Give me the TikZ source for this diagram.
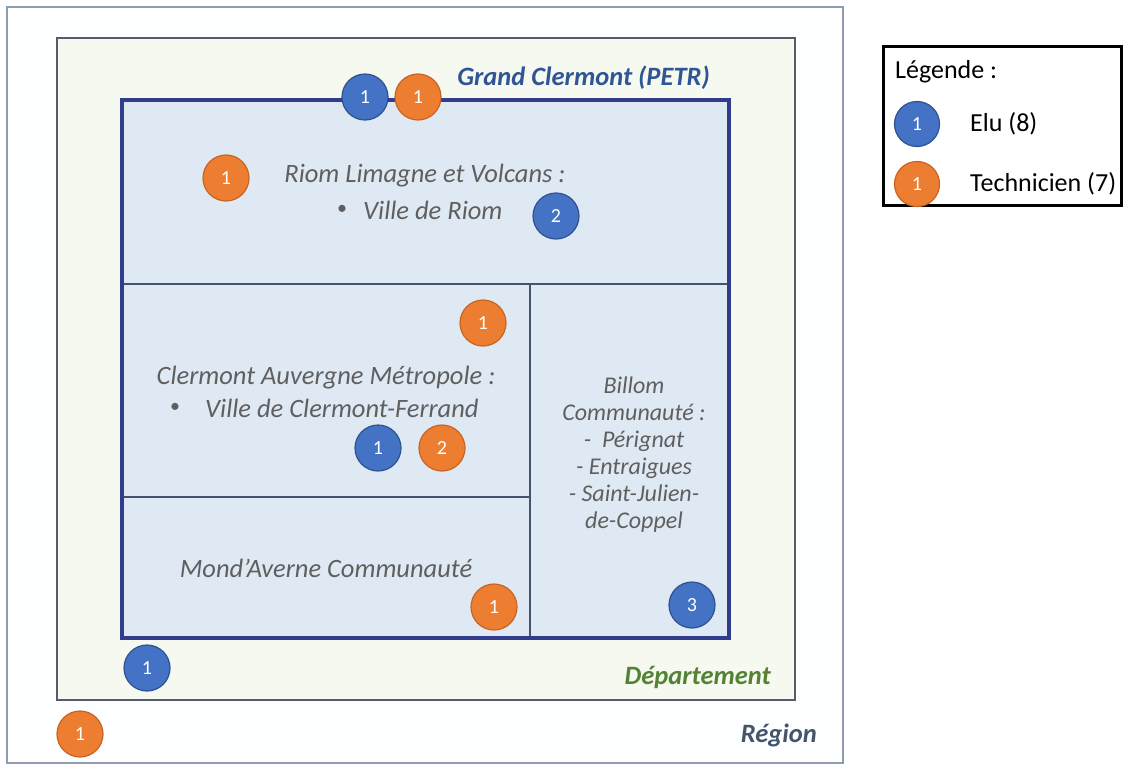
\documentclass[tikz,border=0pt]{standalone}
\usepackage{fontspec}
\setmainfont{Carlito}
\definecolor{regborder}{RGB}{140,158,176}
\definecolor{regfill}{RGB}{253,254,255}
\definecolor{depborder}{RGB}{85,92,105}
\definecolor{depfill}{RGB}{245,249,239}
\definecolor{petrborder}{RGB}{50,60,140}
\definecolor{petrfill}{RGB}{223,233,243}
\definecolor{divider}{RGB}{68,84,106}
\definecolor{textgray}{RGB}{95,95,95}
\definecolor{petrtext}{RGB}{47,85,151}
\definecolor{deptext}{RGB}{84,130,53}
\definecolor{regtext}{RGB}{68,84,106}
\definecolor{cblue}{RGB}{68,114,196}
\definecolor{cblueb}{RGB}{47,82,143}
\definecolor{corange}{RGB}{237,125,49}
\definecolor{corangeb}{RGB}{200,100,35}
\begin{document}
\begin{tikzpicture}[x=1pt,y=-1pt,
  txt/.style={font=\fontsize{26.5}{31}\selectfont\itshape, text=textgray, align=center, inner sep=0pt},
  bul/.style={font=\fontsize{20}{20}\selectfont, text=textgray, inner sep=0pt},
  lbl/.style={font=\fontsize{26.5}{30}\selectfont\bfseries\itshape, inner sep=0pt},
  legtxt/.style={font=\fontsize{26}{30}\selectfont, text=black, inner sep=0pt, anchor=west},
  badge/.style={circle, minimum size=46pt, inner sep=0pt, line width=1.2pt, text=white, font=\fontsize{20}{20}\selectfont},
  bluec/.style={badge, fill=cblue, draw=cblueb},
  orangec/.style={badge, fill=corange, draw=corangeb},
  smallbadge/.style={minimum size=45pt}]
\useasboundingbox (0,0) rectangle (1123,765);
\fill[white] (0,0) rectangle (1123,765);
% Region box
\draw[regborder, fill=regfill, line width=1.2pt] (7,7) rectangle (843,763);
% Departement box
\draw[depborder, fill=depfill, line width=1.2pt] (57,38) rectangle (795,700);
% PETR box
\fill[petrfill] (122,100) rectangle (729,638);
\draw[divider, line width=1.3pt] (122,284) -- (729,284);
\draw[divider, line width=1.3pt] (530,284) -- (530,638);
\draw[divider, line width=1.3pt] (122,497) -- (530,497);
\draw[petrborder, line width=4pt] (122,100) rectangle (729,638);
% labels
\node[lbl, text=petrtext, anchor=east] (petr) at (710,78) {Grand Clermont (PETR)};
\node[lbl, text=deptext, anchor=east] (dep) at (771,677) {Département};
\node[lbl, text=regtext, anchor=east] (reg) at (817,735) {Région};
% Riom
\node[txt] (riom) at (425,176) {Riom Limagne et Volcans :};
\node[bul] (riomb) at (342,210) {•};
\node[txt, anchor=west] (riomv) at (363,210) {Ville de Riom};
% Clermont
\node[txt] (cam) at (326,378) {Clermont Auvergne Métropole :};
\node[bul] (camb) at (175,408) {•};
\node[txt, anchor=west] (camv) at (205,408) {Ville de Clermont-Ferrand};
% Mond'Averne
\node[txt] (mond) at (326,568) {Mond’Averne Communauté};
% Billom
\node[txt, font=\fontsize{24}{27}\selectfont\itshape] (billom) at (634,455) {Billom\\Communauté :\\-\ \ Pérignat\\- Entraigues\\- Saint-Julien-\\de-Coppel};
% badges
\node[bluec] (b1) at (365,97) {1};
\node[orangec] (o1) at (418,97) {1};
\node[orangec] (o2) at (226,178) {1};
\node[bluec] (b2) at (556,216) {2};
\node[orangec] (o3) at (483,323) {1};
\node[bluec] (b3) at (378,448) {1};
\node[orangec] (o4) at (442,448) {2};
\node[orangec] (o5) at (494,607) {1};
\node[bluec] (b4) at (692,605) {3};
\node[bluec] (b5) at (147,668) {1};
\node[orangec] (o6) at (80,734) {1};
% legend
\draw[black, line width=3pt] (883,47) rectangle (1121,205);
\node[legtxt] (leg) at (895,72) {Légende :};
\node[bluec, smallbadge] (lb) at (917,124) {1};
\node[orangec, smallbadge] (lo) at (917,184) {1};
\node[legtxt] (lbt) at (970,124) {Elu (8)};
\node[legtxt] (lot) at (970,184) {Technicien (7)};
\end{tikzpicture}
\end{document}
